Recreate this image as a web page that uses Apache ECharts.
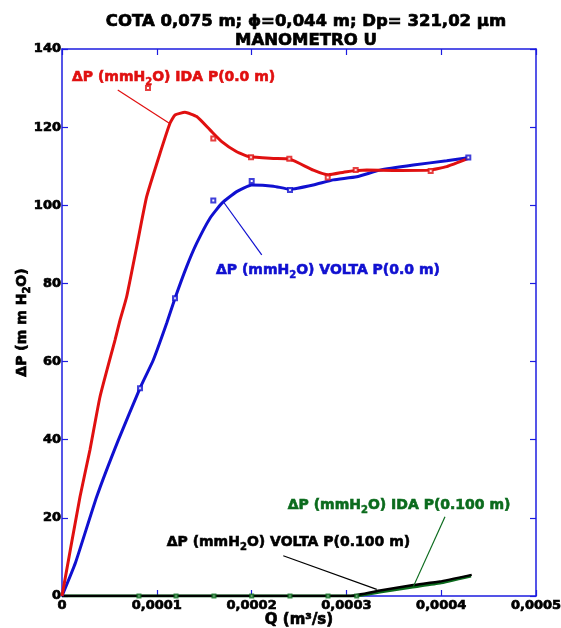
<!DOCTYPE html>
<html>
<head>
<meta charset="utf-8">
<script src="https://cdn.jsdelivr.net/npm/echarts/dist/echarts.min.js"></script>
<style>
html, body { margin: 0; padding: 0; background: #fff; }
#main { width: 561px; height: 628px; }
</style>
</head>
<body>
<div id="main"></div>
<script>
// eixo X: vazão Q (m³/s), eixo Y: ΔP (mmH2O)
var xTicks = [0, 0.0001, 0.0002, 0.0003, 0.0004, 0.0005];
var yTicks = [0, 20, 40, 60, 80, 100, 120, 140];

// ida, P(0.0 m)
var idaP0 = [
  [0, 0], [0.000019, 25.4], [0.0000295, 37.4], [0.0000401, 51.0], [0.0000559, 65.5],
  [0.0000612, 70.6], [0.0000682, 76.6], [0.0000788, 89.4], [0.0000893, 102.2],
  [0.0001034, 113.3], [0.0001139, 121.0], [0.0001192, 123.1], [0.0001297, 123.8],
  [0.0001421, 122.7], [0.0001561, 119.3], [0.0001685, 116.3], [0.0001843, 113.7],
  [0.0001983, 112.4], [0.0002229, 112.0], [0.0002405, 111.8], [0.0002651, 109.0],
  [0.0002809, 107.8], [0.0003003, 108.6], [0.0003214, 109.0], [0.0003495, 108.9],
  [0.0003882, 109.0], [0.0004058, 109.9], [0.0004286, 112.0]
];
// volta, P(0.0 m)
var voltaP0 = [
  [0, 0], [0.0000142, 8.5], [0.0000366, 25.4], [0.0000594, 39.9], [0.0000823, 53.2],
  [0.0000963, 60.4], [0.0001104, 69.8], [0.0001192, 76.2], [0.0001315, 84.3],
  [0.0001421, 90.3], [0.0001561, 96.7], [0.0001685, 100.5], [0.0001843, 103.5],
  [0.0002001, 105.2], [0.0002229, 104.9], [0.0002405, 104.1], [0.0002651, 105.2],
  [0.0002862, 106.5], [0.0003109, 107.3], [0.0003354, 109.0], [0.0003706, 110.3],
  [0.0004058, 111.4], [0.0004286, 112.2]
];
// ida, P(0.100 m)
var idaP100 = [
  [0, 0], [0.000309, 0], [0.0003354, 1.0], [0.00037, 2.3], [0.0003987, 3.3], [0.0004314, 5.1]
];
// volta, P(0.100 m)
var voltaP100 = [
  [0, 0], [0.0003038, 0], [0.0003354, 1.4], [0.0003706, 2.8], [0.0003987, 3.7], [0.0004322, 5.4]
];

// pontos medidos (marcadores)
var idaP0Pts = [[0.0000907, 130.0], [0.0001596, 117.1], [0.0001994, 112.3], [0.0002398, 111.9],
  [0.0002803, 107.1], [0.0003098, 109.0], [0.0003889, 108.8]];
var voltaP0Pts = [[0.0000823, 53.2], [0.0001192, 76.2], [0.0001596, 101.2], [0.0002001, 106.2],
  [0.0002405, 103.9], [0.0004286, 112.2]];
var idaP100Pts = [[0.0000812, 0], [0.0001203, 0], [0.0001603, 0], [0.0002001, 0],
  [0.0002405, 0], [0.0002806, 0], [0.0003109, 0]];

var FONT = 'DejaVu Sans';
var AXIS_BLUE = '#1c1ce0';
var RED = '#e01010';
var BLUE = '#1010d0';
var GREEN = '#0b6b1d';
var BLACK = '#000000';

function qLabel(v) {
  if (v === 0) return '0';
  return v.toFixed(4).replace('.', ',');
}

function baseAxis(extra) {
  var ax = {
    type: 'value',
    splitLine: { show: false },
    axisLine: { show: true, onZero: false, lineStyle: { color: AXIS_BLUE, width: 1.5 } },
    axisTick: { show: true, inside: true, length: 6, lineStyle: { color: AXIS_BLUE, width: 1.2 } }
  };
  for (var k in extra) ax[k] = extra[k];
  return ax;
}

// texto "mais pesado" (contorno da mesma cor)
function heavy(color, size) {
  return { fontFamily: FONT, fontWeight: 'bold', fontSize: size, color: color,
    textBorderColor: color, textBorderWidth: 0.7 };
}

var chart = echarts.init(document.getElementById('main'));
chart.setOption({
  animation: false,
  backgroundColor: '#fff',
  title: {
    text: 'COTA 0,075 m; ϕ=0,044 m; Dp= 321,02 μm\nMANOMETRO U',
    left: 301,
    top: 7,
    textAlign: 'center',
    textStyle: Object.assign(heavy('#000', 16.5), { lineHeight: 19 })
  },
  grid: { left: 62, right: 25, top: 49, bottom: 32, outerBoundsMode: 'none', containLabel: false },
  xAxis: [
    baseAxis({
      position: 'bottom',
      min: xTicks[0], max: xTicks[xTicks.length - 1], interval: 0.0001,
      axisLabel: Object.assign({ margin: 3, formatter: qLabel }, heavy('#000', 13)),
      name: 'Q (m³/s)', nameLocation: 'middle', nameGap: 17, nameMoveOverlap: false,
      nameTextStyle: heavy('#000', 15)
    }),
    baseAxis({
      position: 'top',
      min: xTicks[0], max: xTicks[xTicks.length - 1], interval: 0.0001,
      axisLabel: { show: false }
    })
  ],
  yAxis: [
    baseAxis({
      position: 'left',
      min: yTicks[0], max: yTicks[yTicks.length - 1], interval: 20,
      axisLabel: Object.assign({ margin: 1 }, heavy('#000', 13)),
      name: '{a|ΔP (m m H}{s|2}{a|O)}', nameLocation: 'middle', nameGap: 30, nameMoveOverlap: false,
      nameTextStyle: {
        rich: {
          a: heavy('#000', 14),
          s: Object.assign(heavy('#000', 10), { padding: [9, 0, 0, 0] })
        }
      }
    }),
    baseAxis({
      position: 'right',
      min: yTicks[0], max: yTicks[yTicks.length - 1], interval: 20,
      axisLabel: { show: false }
    })
  ],
  series: [
    { name: 'ida0100', type: 'line', data: idaP100, showSymbol: false, smooth: 0.1,
      lineStyle: { color: GREEN, width: 3 }, z: 3 },
    { name: 'volta0100', type: 'line', data: voltaP100, showSymbol: false, smooth: 0.1,
      lineStyle: { color: BLACK, width: 2.5 }, z: 4 },
    { name: 'volta00', type: 'line', data: voltaP0, showSymbol: false, smooth: 0.15,
      lineStyle: { color: BLUE, width: 3 }, z: 5 },
    { name: 'ida00', type: 'line', data: idaP0, showSymbol: false, smooth: 0.15,
      lineStyle: { color: RED, width: 3 }, z: 6 },
    { type: 'scatter', data: idaP0Pts, symbol: 'emptyRect', symbolSize: 4,
      itemStyle: { color: RED, borderColor: RED, borderWidth: 1 }, z: 7 },
    { type: 'scatter', data: voltaP0Pts, symbol: 'emptyRect', symbolSize: 4,
      itemStyle: { color: BLUE, borderColor: BLUE, borderWidth: 1 }, z: 7 },
    { type: 'scatter', data: idaP100Pts, symbol: 'emptyRect', symbolSize: 3,
      itemStyle: { color: GREEN, borderColor: GREEN, borderWidth: 1 }, z: 7 }
  ]
});

// rótulos das curvas com linha de chamada (posições em unidades dos eixos)
var notes = [
  { tail: 'IDA P(0.0 m)', color: RED, at: [0.0000105, 132.8], from: [0.0000588, 129.5], to: [0.0001132, 121.0] },
  { tail: 'VOLTA P(0.0 m)', color: BLUE, at: [0.0001624, 83.4], from: [0.0002107, 87.3], to: [0.0001702, 100.9] },
  { tail: 'IDA P(0.100 m)', color: GREEN, at: [0.0002381, 23.1], from: [0.000404, 20.3], to: [0.0003706, 2.4] },
  { tail: 'VOLTA P(0.100 m)', color: BLACK, at: [0.0001104, 13.7], from: [0.0002334, 10.3], to: [0.000332, 1.7] }
];

var graphics = [];
notes.forEach(function (n) {
  var p = chart.convertToPixel({ gridIndex: 0 }, n.at);
  var a = chart.convertToPixel({ gridIndex: 0 }, n.from);
  var b = chart.convertToPixel({ gridIndex: 0 }, n.to);
  graphics.push({
    type: 'line', silent: true, z: 10,
    shape: { x1: a[0], y1: a[1], x2: b[0], y2: b[1] },
    style: { stroke: n.color, lineWidth: 1.2 }
  });
  graphics.push({
    type: 'text', silent: true, z: 10, x: p[0], y: p[1],
    style: {
      text: '{a|ΔP (mmH}{s|2}{a|O) ' + n.tail + '}',
      verticalAlign: 'middle',
      rich: {
        a: { fontFamily: FONT, fontWeight: 'bold', fontSize: 14, fill: n.color, stroke: n.color, lineWidth: 0.6 },
        s: { fontFamily: FONT, fontWeight: 'bold', fontSize: 10, fill: n.color, stroke: n.color, lineWidth: 0.5,
          padding: [10, 0, 0, 0] }
      }
    }
  });
});
chart.setOption({ graphic: graphics });
</script>
</body>
</html>
